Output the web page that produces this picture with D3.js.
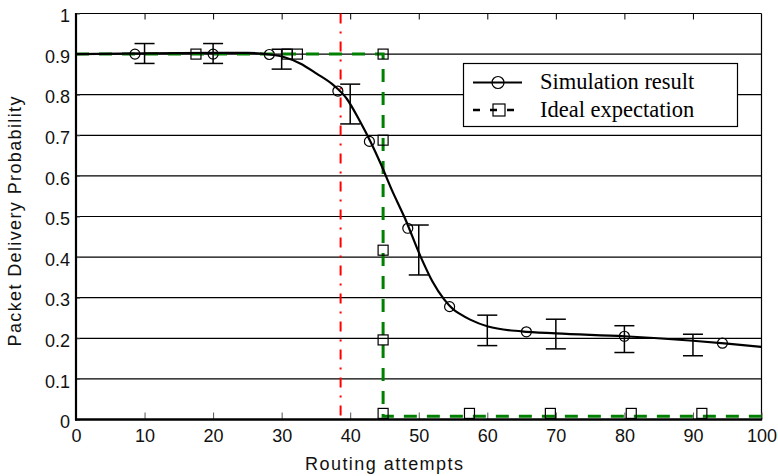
<!DOCTYPE html>
<html>
<head>
<meta charset="utf-8">
<script src="https://cdn.jsdelivr.net/npm/d3@7"></script>
<style>
  html, body { margin: 0; padding: 0; background: #fff; }
  svg { display: block; }
</style>
</head>
<body>
<svg id="chart" width="778" height="476"></svg>
<script>
// ---------------- data ----------------
const xTicks = [0, 10, 20, 30, 40, 50, 60, 70, 80, 90, 100];
const yTicks = [0, 0.1, 0.2, 0.3, 0.4, 0.5, 0.6, 0.7, 0.8, 0.9, 1];
const yTickLabels = ["0", "0.1", "0.2", "0.3", "0.4", "0.5", "0.6", "0.7", "0.8", "0.9", "1"];

// Simulation result: smooth fitted curve
const simCurveX = [0, 10, 20, 25, 28.2, 30.3, 32.7, 35.1, 37.6, 39.5, 41.4, 43, 44.5, 46, 48, 50.3, 52, 53.7, 55, 56, 57.5, 60.1, 65, 70, 80, 90, 95, 100];
const simCurveY = [0.900, 0.902, 0.903, 0.903, 0.899, 0.893, 0.877, 0.852, 0.823, 0.790, 0.735, 0.683, 0.628, 0.568, 0.495, 0.400, 0.340, 0.296, 0.272, 0.260, 0.246, 0.229, 0.217, 0.212, 0.205, 0.194, 0.187, 0.179];
// Simulation result: markers
const simMarkX = [8.6, 20, 28.2, 38.2, 42.8, 48.4, 54.5, 65.7, 80, 94.3];
const simMarkY = [0.900, 0.900, 0.899, 0.809, 0.685, 0.471, 0.278, 0.216, 0.205, 0.188];
// Simulation error bars
const errX    = [10, 20, 30, 40, 50, 60, 70, 80, 90];
const errLow  = [0.877, 0.877, 0.863, 0.728, 0.356, 0.182, 0.174, 0.165, 0.157];
const errHigh = [0.926, 0.926, 0.912, 0.826, 0.479, 0.257, 0.247, 0.231, 0.210];

// Ideal expectation
const idealLineX = [0, 44.8, 44.8, 100];
const idealLineY = [0.900, 0.900, 0.008, 0.008];
const idealMarkX = [17.5, 30.8, 32.3, 44.8, 44.8, 44.8, 44.8, 44.8, 57.4, 69.2, 81, 91.3];
const idealMarkY = [0.900, 0.900, 0.900, 0.900, 0.688, 0.417, 0.196, 0.015, 0.015, 0.015, 0.015, 0.015];

// Threshold line
const thresholdX = [38.6];

const legendLabels = ["Simulation result", "Ideal expectation"];
const xLabel = "Routing attempts";
const yLabel = "Packet Delivery Probability";

// ---------------- layout ----------------
const svg = d3.select("#chart");
const L = 76, R = 761.5, T = 13.5, B = 419.5;
const x = d3.scaleLinear().domain([0, 100]).range([L, R]);
const y = d3.scaleLinear().domain([0, 1]).range([B, T]);
const sans = "'Liberation Sans', Arial, Helvetica, sans-serif";
const serif = "'Liberation Serif', 'Times New Roman', serif";

// horizontal grid lines
svg.append("g").selectAll("line")
  .data(yTicks.filter(v => v > 0 && v < 1))
  .join("line")
  .attr("x1", L).attr("x2", R)
  .attr("y1", d => y(d)).attr("y2", d => y(d))
  .attr("stroke", "#000").attr("stroke-width", 1.2);

// top & right frame (thin)
svg.append("line").attr("x1", L).attr("x2", R).attr("y1", T).attr("y2", T)
  .attr("stroke", "#000").attr("stroke-width", 1.2);
svg.append("line").attr("x1", R).attr("x2", R).attr("y1", T).attr("y2", B)
  .attr("stroke", "#000").attr("stroke-width", 1.2);

// top ticks (inward)
svg.append("g").attr("transform", `translate(0,${T})`)
  .call(d3.axisTop(x).tickValues(xTicks.slice(1, -1)).tickSize(-6).tickFormat(""))
  .call(g => g.select(".domain").remove())
  .call(g => g.selectAll(".tick line").attr("stroke", "#000").attr("stroke-width", 1));

// bottom axis
const xAxis = svg.append("g").attr("transform", `translate(0,${B})`)
  .call(d3.axisBottom(x).tickValues(xTicks).tickSize(-7).tickFormat(d3.format("d")));
xAxis.select(".domain").remove();
xAxis.selectAll(".tick line").attr("stroke", "#555").attr("stroke-width", 1);
xAxis.selectAll(".tick text")
  .attr("y", 22.2).attr("dy", null)
  .attr("font-family", sans).attr("font-size", 18).attr("fill", "#111");

// left axis
const yAxis = svg.append("g").attr("transform", `translate(${L},0)`)
  .call(d3.axisLeft(y).tickValues(yTicks).tickSize(-4).tickFormat((d, i) => yTickLabels[i]));
yAxis.select(".domain").remove();
yAxis.selectAll(".tick line").attr("stroke", "#555");
yAxis.selectAll(".tick text")
  .attr("x", -6).attr("dy", "0.45em")
  .attr("font-family", sans).attr("font-size", 18).attr("fill", "#111");

// threshold line (red dash-dot)
svg.append("g").selectAll("line").data(thresholdX).join("line")
  .attr("x1", d => x(d)).attr("x2", d => x(d))
  .attr("y1", T).attr("y2", B)
  .attr("stroke", "#ff0000").attr("stroke-width", 2)
  .attr("stroke-dasharray", "10,8,2,8");

// ideal expectation line
const idealPts = idealLineX.map((v, i) => [v, idealLineY[i]]);
svg.append("path")
  .attr("d", d3.line().x(d => x(d[0])).y(d => y(d[1]))(idealPts))
  .attr("fill", "none").attr("stroke", "#008000").attr("stroke-width", 3)
  .attr("stroke-dasharray", "13,10");

// simulation curve
const simPts = simCurveX.map((v, i) => [v, simCurveY[i]]);
svg.append("path")
  .attr("d", d3.line().x(d => x(d[0])).y(d => y(d[1])).curve(d3.curveMonotoneX)(simPts))
  .attr("fill", "none").attr("stroke", "#000").attr("stroke-width", 2.2);

// error bars
const eb = svg.append("g").attr("stroke", "#000").attr("stroke-width", 1.5);
errX.forEach((v, i) => {
  const cx = x(v);
  eb.append("line").attr("x1", cx).attr("x2", cx).attr("y1", y(errLow[i])).attr("y2", y(errHigh[i]));
  eb.append("line").attr("x1", cx - 10).attr("x2", cx + 10).attr("y1", y(errLow[i])).attr("y2", y(errLow[i]));
  eb.append("line").attr("x1", cx - 10).attr("x2", cx + 10).attr("y1", y(errHigh[i])).attr("y2", y(errHigh[i]));
});

// ideal markers
svg.append("g").selectAll("rect")
  .data(idealMarkX.map((v, i) => [v, idealMarkY[i]]))
  .join("rect")
  .attr("x", d => x(d[0]) - 5).attr("y", d => y(d[1]) - 5)
  .attr("width", 10).attr("height", 10)
  .attr("fill", "none").attr("stroke", "#000").attr("stroke-width", 1.2);

// simulation markers
svg.append("g").selectAll("circle")
  .data(simMarkX.map((v, i) => [v, simMarkY[i]]))
  .join("circle")
  .attr("cx", d => x(d[0])).attr("cy", d => y(d[1])).attr("r", 5)
  .attr("fill", "none").attr("stroke", "#000").attr("stroke-width", 1.2);

// left & bottom spines (thick)
svg.append("line").attr("x1", L).attr("x2", L).attr("y1", T - 0.6).attr("y2", B + 1)
  .attr("stroke", "#000").attr("stroke-width", 2.2);
svg.append("line").attr("x1", L - 1).attr("x2", R + 0.6).attr("y1", B).attr("y2", B)
  .attr("stroke", "#000").attr("stroke-width", 2.4);

// legend
const lg = svg.append("g");
lg.append("rect").attr("x", 463.5).attr("y", 63.5).attr("width", 274).attr("height", 63)
  .attr("fill", "#fff").attr("stroke", "#000").attr("stroke-width", 1.2);
lg.append("line").attr("x1", 473).attr("x2", 522).attr("y1", 82.5).attr("y2", 82.5)
  .attr("stroke", "#000").attr("stroke-width", 2.2);
lg.append("circle").attr("cx", 498).attr("cy", 82.5).attr("r", 6)
  .attr("fill", "none").attr("stroke", "#000").attr("stroke-width", 1.2);
lg.append("line").attr("x1", 473).attr("x2", 522).attr("y1", 110).attr("y2", 110)
  .attr("stroke", "#000").attr("stroke-width", 2.5).attr("stroke-dasharray", "7,10");
lg.append("rect").attr("x", 493).attr("y", 104).attr("width", 12).attr("height", 12)
  .attr("fill", "none").attr("stroke", "#000").attr("stroke-width", 1.2);
lg.selectAll("text.lab").data(legendLabels).join("text")
  .attr("class", "lab")
  .attr("x", 540).attr("y", (d, i) => 89 + i * 27.7)
  .attr("font-family", serif).attr("font-size", 22.5).attr("fill", "#000")
  .text(d => d);

// axis titles
svg.append("text").attr("x", 384).attr("y", 470)
  .attr("text-anchor", "middle")
  .attr("font-family", sans).attr("font-size", 18).attr("fill", "#111")
  .attr("textLength", 158).attr("lengthAdjust", "spacing")
  .text(xLabel);
svg.append("text").attr("transform", "translate(20.5,221.5) rotate(-90)")
  .attr("text-anchor", "middle")
  .attr("font-family", sans).attr("font-size", 18).attr("fill", "#111")
  .attr("textLength", 250).attr("lengthAdjust", "spacing")
  .text(yLabel);
</script>
</body>
</html>
